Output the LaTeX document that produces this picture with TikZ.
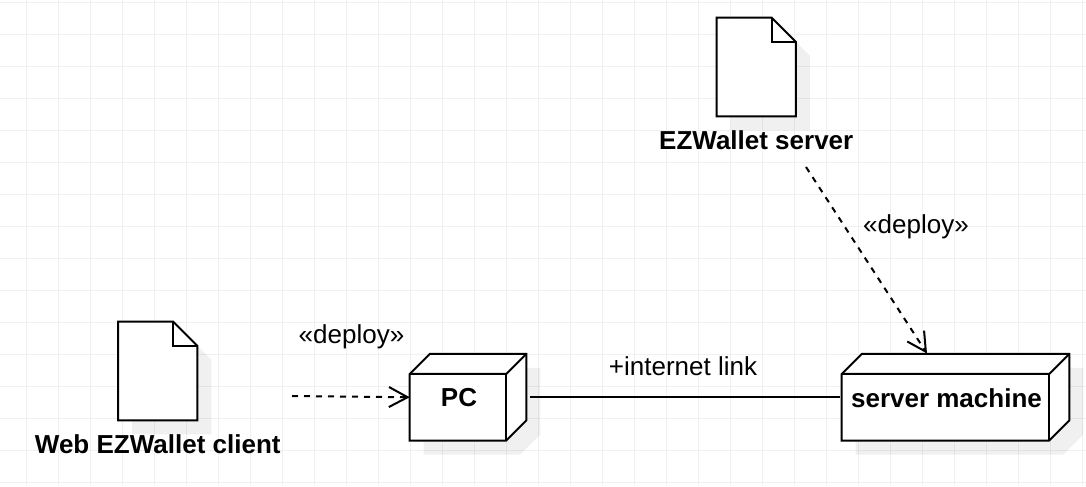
\documentclass[tikz,border=0pt]{standalone}
\usepackage{fontspec}
\setmainfont{Liberation Sans}
\usetikzlibrary{arrows.meta,calc,positioning}
\tikzset{
	boxnode/.style={minimum width=#1, minimum height=64.5pt, inner sep=0pt},
	docnode/.style={minimum width=58.9pt, minimum height=73.5pt, inner sep=0pt},
	nameText/.style={inner sep=0pt, font=\fontsize{19.5pt}{23pt}\selectfont\bfseries},
	linkText/.style={inner sep=0pt, font=\fontsize{19.5pt}{23pt}\selectfont},
	shapeLine/.style={draw=black, line width=1.5pt, line join=miter, fill=white},
	thinFace/.style={draw=black, line width=1.5pt, line join=miter, fill=none},
	shadowFill/.style={fill=black, fill opacity=0.06, draw=none},
	gridLine/.style={draw=black!6, line width=0.75pt},
	deployEdge/.style={line width=1.5pt, dash pattern=on 4.5pt off 4.5pt, -{Straight Barb[length=14pt,width=15pt,line width=1.5pt]}},
	linkEdge/.style={line width=1.5pt}
}
% 3D box around a named node
\newcommand{\boxFaces}[1]{
	\fill[shadowFill] ($(#1.north west)+(34,14)$) -- ($(#1.north east)+(14,14)$) -- ($(#1.south east)+(14,-6)$) -- ($(#1.south east)+(-6,14)$) -- ($(#1.south west)+(14,14)$) -- ($(#1.north west)+(14,34)$) -- cycle;
	\draw[shapeLine] ($(#1.north west)+(0,20)$) -- ($(#1.north west)+(20,0)$) -- (#1.north east) -- ($(#1.south east)+(0,-20)$) -- ($(#1.south east)+(-20,0)$) -- (#1.south west) -- cycle;
	\draw[thinFace] ($(#1.north west)+(0,20)$) -- ($(#1.north east)+(-20,20)$) -- (#1.north east);
	\draw[thinFace] ($(#1.north east)+(-20,20)$) -- ($(#1.south east)+(-20,0)$);
}
% sheet with a folded corner around a named node
\newcommand{\docFaces}[1]{
	\fill[shadowFill] ($(#1.north west)+(14,14)$) -- ($(#1.north east)+(-10,14)$) -- ($(#1.north east)+(14,38)$) -- ($(#1.south east)+(14,14)$) -- ($(#1.south west)+(14,14)$) -- cycle;
	\draw[shapeLine] (#1.north west) -- ($(#1.north east)+(-24,0)$) -- ($(#1.north east)+(0,24)$) -- (#1.south east) -- (#1.south west) -- cycle;
	\draw[thinFace] ($(#1.north east)+(-24,0)$) -- ($(#1.north east)+(-24,24)$) -- ($(#1.north east)+(0,24)$);
}
\begin{document}
\begin{tikzpicture}[x=0.75pt, y=-0.75pt]
	\useasboundingbox (0,0) rectangle (1086,486);
	% Grid
	\foreach \gridx in {26.5,58.5,...,1082.5}
		\draw[gridLine] (\gridx,0) -- (\gridx,486);
	\foreach \gridy in {2.5,34.5,...,482.5}
		\draw[gridLine] (0,\gridy) -- (1086,\gridy);

	% Nodes
	\node[docnode] (webDoc) at (157.75,371) {};
	\node[docnode] (serverDoc) at (756.25,67) {};
	\node[boxnode=87pt] (pc) at (468,397.25) {};
	\node[boxnode=170.25pt] (serverBox) at (955.5,397.25) {};
	\docFaces{webDoc}
	\docFaces{serverDoc}
	\boxFaces{pc}
	\boxFaces{serverBox}

	% Names
	\node[nameText, below=10.5pt of webDoc] (webName) {Web EZWallet client};
	\node[nameText, below=10.5pt of serverDoc] (serverName) {EZWallet server};
	\node[nameText] (pcName) at (459,398) {PC};
	\node[nameText] (serverBoxName) at (946.5,398) {server machine};

	% Free ends of the deploy arrows
	\coordinate (webOut) at (292,396);
	\coordinate (serverOut) at (806,167);
	\coordinate (serverIn) at (927,353.5);

	% Connectors
	\draw[deployEdge] (webOut) -- (pc.west);
	\draw[deployEdge] (serverOut) -- (serverIn);
	\draw[linkEdge, shorten <=3pt, shorten >=1pt] (pc.east) -- (serverBox.west);

	% Connector labels
	\node[linkText] (webDeploy) at (351.5,337) {«deploy»};
	\node[linkText] (serverDeploy) at (916,227) {«deploy»};
	\node[linkText] (internetLink) at (683,366.5) {+internet link};
\end{tikzpicture}
\end{document}
